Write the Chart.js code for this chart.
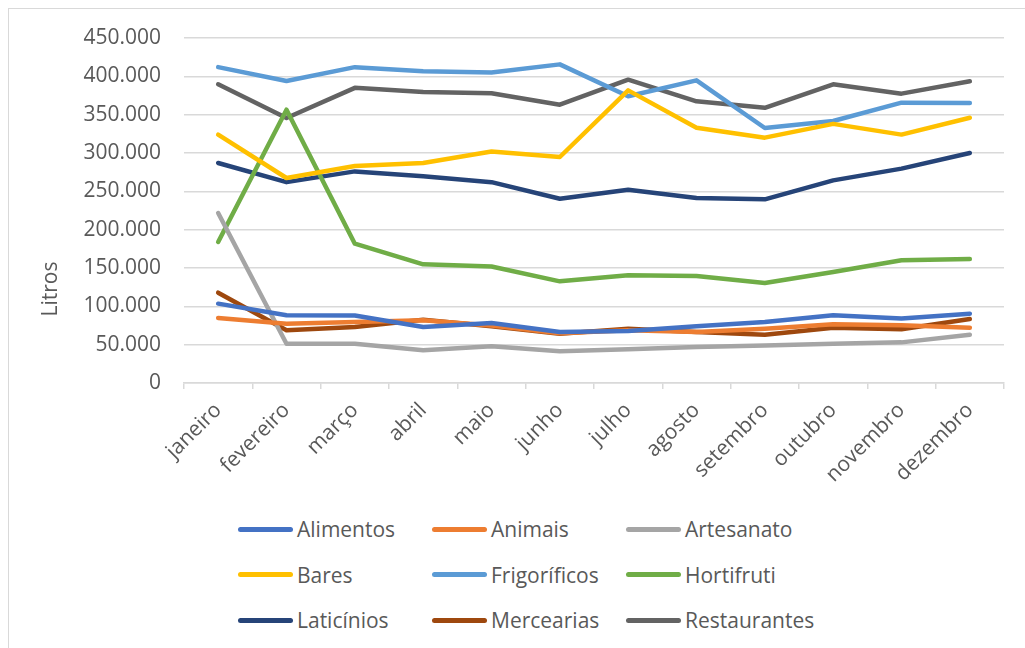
<!DOCTYPE html>
<html>
<head>
<meta charset="utf-8">
<script src="https://cdn.jsdelivr.net/npm/chart.js@4"></script>
<style>
    body { margin: 0; background: #fff; font-family: 'Open Sans', sans-serif; }
    #wrap { position: relative; width: 1025px; height: 648px; overflow: hidden; }
    #frame { position: absolute; left: 8px; top: 8px; width: 1030px; height: 700px; border: 1px solid #d9d9d9; }
    #chart-box { position: absolute; left: 0; top: 0; width: 1025px; height: 500px; }
    #legend { position: absolute; left: 238px; top: 510px; }
    .legend-item { position: absolute; display: flex; align-items: center; white-space: nowrap; color: #595959; font-size: 21px; height: 38px; }
    .legend-line { width: 55px; height: 5px; border-radius: 3px; margin-right: 4px; }
</style>
</head>
<body>
<div id="wrap">
    <div id="frame"></div>
    <div id="chart-box"><canvas id="litrosChart" width="1025" height="500"></canvas></div>
    <div id="legend"></div>
</div>
<script>
const months = ['janeiro', 'fevereiro', 'março', 'abril', 'maio', 'junho', 'julho', 'agosto', 'setembro', 'outubro', 'novembro', 'dezembro'];
const yTicks = [0, 50000, 100000, 150000, 200000, 250000, 300000, 350000, 400000, 450000];

const alimentos    = [103500, 88300, 88000, 73000, 78300, 66500, 67800, 74000, 79600, 88300, 84000, 90400];
const animais      = [84800, 77400, 79600, 82000, 75000, 65000, 68700, 66500, 70900, 76500, 75200, 72200];
const artesanato   = [221700, 51300, 51300, 42600, 47800, 41300, 43900, 47000, 49000, 51300, 53000, 63000];
const bares        = [324000, 267400, 283000, 287000, 302000, 294800, 381700, 333000, 320000, 338000, 324000, 346000];
const frigorificos = [412000, 394000, 412000, 406500, 405000, 415600, 374000, 394800, 332600, 341700, 365700, 365200];
const hortifruti   = [184000, 356500, 181700, 154800, 152000, 132600, 140400, 139600, 130400, 144800, 160000, 161700];
const laticinios   = [287000, 262000, 276000, 269600, 262000, 240400, 252000, 241300, 239600, 264300, 279600, 300000];
const mercearias   = [117800, 68700, 73000, 82600, 74000, 64300, 70900, 66500, 63000, 72200, 70000, 83500];
const restaurantes = [389600, 345700, 385000, 379600, 378000, 363000, 395600, 367400, 359000, 389600, 377400, 393500];

const seriesNames = ['Alimentos', 'Animais', 'Artesanato', 'Bares', 'Frigoríficos', 'Hortifruti', 'Laticínios', 'Mercearias', 'Restaurantes'];
const seriesData = [alimentos, animais, artesanato, bares, frigorificos, hortifruti, laticinios, mercearias, restaurantes];
const seriesColors = ['#4472c4', '#ed7d31', '#a5a5a5', '#ffc000', '#5b9bd5', '#70ad47', '#264478', '#9e480e', '#636363'];

const textColor = '#595959';
const gridColor = '#d9d9d9';
const font = { family: "'Open Sans', sans-serif", size: 21 };

function formatThousands(v) {
    return String(v).replace(/\B(?=(\d{3})+(?!\d))/g, '.');
}

// y axis title sits lower than the axis centre, so it is drawn by hand
const axisTitle = {
    id: 'axisTitle',
    afterDraw(chart) {
        const ctx = chart.ctx;
        ctx.save();
        ctx.translate(51, 289);
        ctx.rotate(-Math.PI / 2);
        ctx.font = "21px 'Open Sans', sans-serif";
        ctx.fillStyle = textColor;
        ctx.textAlign = 'center';
        ctx.textBaseline = 'middle';
        ctx.fillText('Litros', 0, 0);
        ctx.restore();
    }
};

const chart = new Chart(document.getElementById('litrosChart').getContext('2d'), {
    type: 'line',
    data: {
        labels: months,
        datasets: seriesNames.map((name, i) => ({
            label: name,
            data: seriesData[i],
            borderColor: seriesColors[i],
            backgroundColor: seriesColors[i],
            borderWidth: 4.5,
            borderCapStyle: 'round',
            borderJoinStyle: 'round',
            pointRadius: 0,
            tension: 0
        }))
    },
    options: {
        responsive: false,
        animation: false,
        layout: { padding: { top: 38, right: 21, left: 0, bottom: 0 } },
        plugins: {
            legend: { display: false },
            tooltip: { enabled: false }
        },
        scales: {
            x: {
                offset: true,
                grid: { offset: true, drawOnChartArea: false, drawTicks: true, tickLength: 6, color: gridColor, lineWidth: 1.5 },
                border: { color: gridColor, width: 1.5 },
                ticks: { color: textColor, font: font, minRotation: 45, maxRotation: 45, padding: 9 },
                afterFit(scale) { scale.height = 117; }
            },
            y: {
                min: 0,
                max: 450000,
                afterBuildTicks(scale) { scale.ticks = yTicks.map(v => ({ value: v })); },
                grid: { color: gridColor, lineWidth: 1.5, drawTicks: false },
                border: { display: false },
                ticks: { color: textColor, font: font, padding: 23, callback: v => formatThousands(v) },
                afterFit(scale) { scale.width = 184; }
            }
        }
    },
    plugins: [axisTitle]
});

// three-column legend under the plot
const legend = document.getElementById('legend');
chart.data.datasets.forEach((ds, i) => {
    const item = document.createElement('div');
    item.className = 'legend-item';
    item.style.left = (i % 3) * 194 + 'px';
    item.style.top = Math.floor(i / 3) * 45.5 + 'px';
    const line = document.createElement('span');
    line.className = 'legend-line';
    line.style.background = ds.borderColor;
    const label = document.createElement('span');
    label.innerText = ds.label;
    item.appendChild(line);
    item.appendChild(label);
    legend.appendChild(item);
});
</script>
</body>
</html>
